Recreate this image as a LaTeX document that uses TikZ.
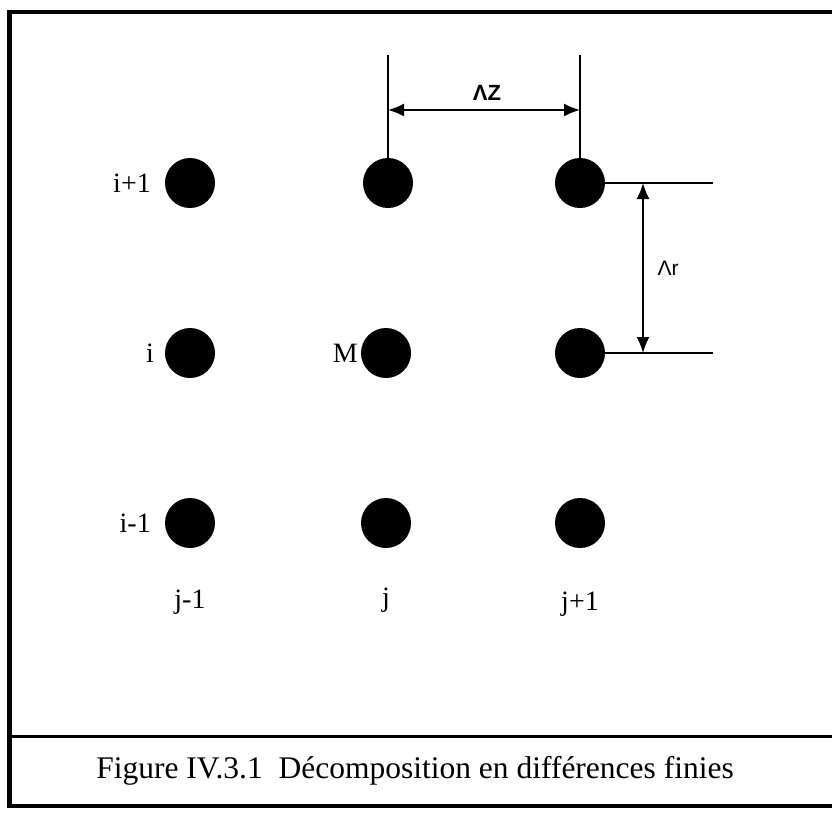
\documentclass[tikz,border=0pt]{standalone}
\usepackage{fontspec}
\setmainfont{Liberation Serif}
\newfontfamily\lblsans{Liberation Sans}
\usetikzlibrary{arrows.meta}
\begin{document}
\begin{tikzpicture}[x=1pt,y=-1pt,
  dot/.style={circle,fill=black,minimum size=50pt,inner sep=0pt},
  lbl/.style={font=\fontsize{28}{30}\selectfont,inner sep=0pt},
  dim/.style={line width=1.6pt},
  dimarrow/.style={line width=1.8pt,{Latex[length=16pt,width=13pt]}-{Latex[length=16pt,width=13pt]}},
  frame/.style={line width=4.5pt}]
\useasboundingbox (0,0) rectangle (832,815);
\begin{scope}
\clip (0,0) rectangle (832,815);
\draw[frame] (9.5,12) rectangle (845,806);
\draw[line width=3pt] (9.5,736) -- (845,736);
\end{scope}
% grid points
\node[dot] (a1) at (190,183) {};
\node[dot] (b1) at (388,183) {};
\node[dot] (c1) at (580,183) {};
\node[dot] (a2) at (190,353) {};
\node[dot] (b2) at (386,353) {};
\node[dot] (c2) at (580,353) {};
\node[dot] (a3) at (190,523) {};
\node[dot] (b3) at (386,523) {};
\node[dot] (c3) at (580,523) {};
% row labels
\node[lbl,anchor=east] (li1) at (151,183) {i+1};
\node[lbl] (li) at (150,353) {i};
\node[lbl,anchor=east] (li0) at (151,523) {i-1};
\node[lbl,anchor=east] (lM) at (358,353) {M};
% column labels
\node[lbl] (lj0) at (190,602) {j-1};
\node[lbl] (lj) at (386,600) {j};
\node[lbl] (lj1) at (580,604) {j+1};
% dimension delta z
\coordinate (tz1) at (388,55);
\coordinate (tz2) at (580,55);
\draw[dim] (tz1) -- (b1.north);
\draw[dim] (tz2) -- (c1.north);
\coordinate (az1) at (388,110);
\coordinate (az2) at (580,110);
\draw[dimarrow] (az1) -- (az2);
\node[font=\lblsans\bfseries\fontsize{22}{24}\selectfont] (dz) at (487,93) {ΛZ};
% dimension delta r
\coordinate (hr1) at (713,183);
\coordinate (hr2) at (713,353);
\draw[dim] (c1.east) -- (hr1);
\draw[dim] (c2.east) -- (hr2);
\coordinate (ar1) at (643,183);
\coordinate (ar2) at (643,353);
\draw[dimarrow] (ar1) -- (ar2);
\node[font=\lblsans\fontsize{21}{23}\selectfont,anchor=west] (dr) at (654,268) {Λr};
% caption
\node[font=\fontsize{31.5}{33}\selectfont] (cap) at (415,771) {Figure IV.3.1\ \ Décomposition en différences finies};
\end{tikzpicture}
\end{document}
